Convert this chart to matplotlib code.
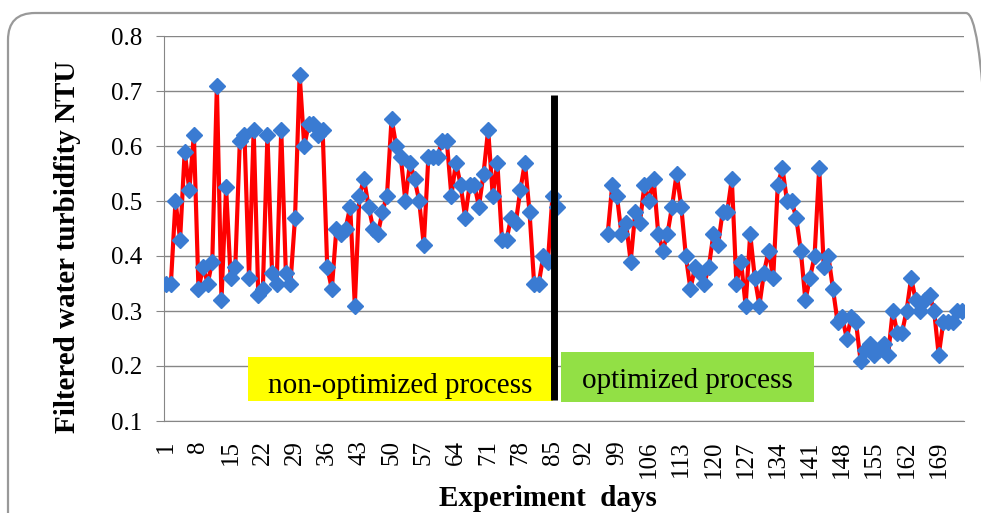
# Turbidez da água filtrada ao longo dos dias de experimento
# antes e depois da otimização do processo

import numpy as np
import matplotlib.pyplot as plt
from matplotlib.patches import Rectangle, FancyBboxPatch
from matplotlib.transforms import IdentityTransform

plt.rcParams['font.family'] = ['Liberation Serif', 'DejaVu Serif']

# dados
N_DIAS = 174
INICIO_OTIMIZADO = 97

# dias 1..86 (processo não otimizado)
turbidez_antes = [0.35, 0.35, 0.50, 0.43, 0.59, 0.52, 0.62, 0.34, 0.38, 0.35,
                  0.39, 0.71, 0.32, 0.525, 0.36, 0.38, 0.61, 0.62, 0.36, 0.63,
                  0.33, 0.34, 0.62, 0.37, 0.35, 0.63, 0.37, 0.35, 0.47, 0.73,
                  0.60, 0.64, 0.64, 0.62, 0.63, 0.38, 0.34, 0.45, 0.44, 0.45,
                  0.49, 0.31, 0.51, 0.54, 0.49, 0.45, 0.44, 0.48, 0.51, 0.65,
                  0.60, 0.58, 0.50, 0.57, 0.54, 0.50, 0.42, 0.58, 0.58, 0.58,
                  0.61, 0.61, 0.51, 0.57, 0.53, 0.47, 0.53, 0.53, 0.49, 0.55,
                  0.63, 0.51, 0.57, 0.43, 0.43, 0.47, 0.46, 0.52, 0.57, 0.48,
                  0.35, 0.35, 0.40, 0.39, 0.51, 0.49]

# dias 97..174 (processo otimizado)
turbidez_depois = [0.44, 0.53, 0.51, 0.44, 0.46, 0.39, 0.48, 0.46, 0.53, 0.50,
                   0.54, 0.44, 0.41, 0.44, 0.49, 0.55, 0.49, 0.40, 0.34, 0.38,
                   0.37, 0.35, 0.38, 0.44, 0.42, 0.48, 0.48, 0.54, 0.35, 0.39,
                   0.31, 0.44, 0.36, 0.31, 0.37, 0.41, 0.36, 0.53, 0.56, 0.50,
                   0.50, 0.47, 0.41, 0.32, 0.36, 0.40, 0.56, 0.38, 0.40, 0.34,
                   0.28, 0.29, 0.25, 0.29, 0.28, 0.21, 0.23, 0.24, 0.22, 0.23,
                   0.24, 0.22, 0.30, 0.26, 0.26, 0.30, 0.36, 0.32, 0.30, 0.32,
                   0.33, 0.30, 0.22, 0.28, 0.28, 0.28, 0.30, 0.30]

dias = np.arange(1, N_DIAS + 1)
turbidez = np.full(N_DIAS, np.nan)
turbidez[:len(turbidez_antes)] = turbidez_antes
turbidez[INICIO_OTIMIZADO - 1:] = turbidez_depois

ticks_x = list(range(1, N_DIAS + 1, 7))
ticks_y = [0.1, 0.2, 0.3, 0.4, 0.5, 0.6, 0.7, 0.8]

CINZA = '#868686'

fig = plt.figure(figsize=(9.81, 5.13), dpi=100)
ax = fig.add_axes([164 / 981, 1 - 421 / 513, 800 / 981, 385 / 513])

ax.plot(dias, turbidez, color='red', linewidth=3, marker='D', markersize=8,
        markerfacecolor='#3A7BD2', markeredgecolor='#3A7BD2', zorder=3)

# linha divisória entre os dois processos
ax.vlines(85.4, 0.138, 0.692, color='black', linewidth=5, zorder=5)

ax.set_xlim(0.5, N_DIAS + 0.5)
ax.set_ylim(0.1, 0.8)
ax.set_xticks(ticks_x)
ax.set_xticklabels([str(t) for t in ticks_x], rotation=90, fontsize=18)
ax.set_yticks(ticks_y)
ax.set_yticklabels([f'{t:.1f}' for t in ticks_y], fontsize=18)
ax.tick_params(axis='x', length=0, pad=14)
ax.tick_params(axis='y', length=6, color=CINZA, pad=10)

ax.grid(axis='y', color=CINZA, linewidth=1)
ax.set_axisbelow(True)
for lado in ['top', 'right']:
    ax.spines[lado].set_visible(False)
for lado in ['left', 'bottom']:
    ax.spines[lado].set_color(CINZA)

ax.set_ylabel('Filtered water turbidfity NTU', fontsize=21, fontweight='bold')
ax.yaxis.set_label_coords(-0.104, 0.453)
ax.set_xlabel('Experiment  days', fontsize=21, fontweight='bold')
ax.xaxis.set_label_coords(0.48, -0.165)

# caixas de texto
ax.add_patch(Rectangle((0.105, 0.052), 0.381, 0.114, transform=ax.transAxes,
                       facecolor='#FFFF00', edgecolor='none', zorder=4))
ax.text(0.2955, 0.092, 'non-optimized process', transform=ax.transAxes,
        fontsize=21, ha='center', va='center', zorder=6)
ax.add_patch(Rectangle((0.496, 0.049), 0.3165, 0.13, transform=ax.transAxes,
                       facecolor='#92E045', edgecolor='none', zorder=4))
ax.text(0.654, 0.105, 'optimized process', transform=ax.transAxes,
        fontsize=21, ha='center', va='center', zorder=6)

# moldura arredondada (lado direito fica fora da imagem)
moldura = FancyBboxPatch((8, -40), 985, 540,
                         boxstyle='round,pad=0,rounding_size=27',
                         facecolor='none', edgecolor='#999999', linewidth=1.6,
                         transform=IdentityTransform())
fig.patches.append(moldura)

fig.savefig('out.png', dpi=100)
